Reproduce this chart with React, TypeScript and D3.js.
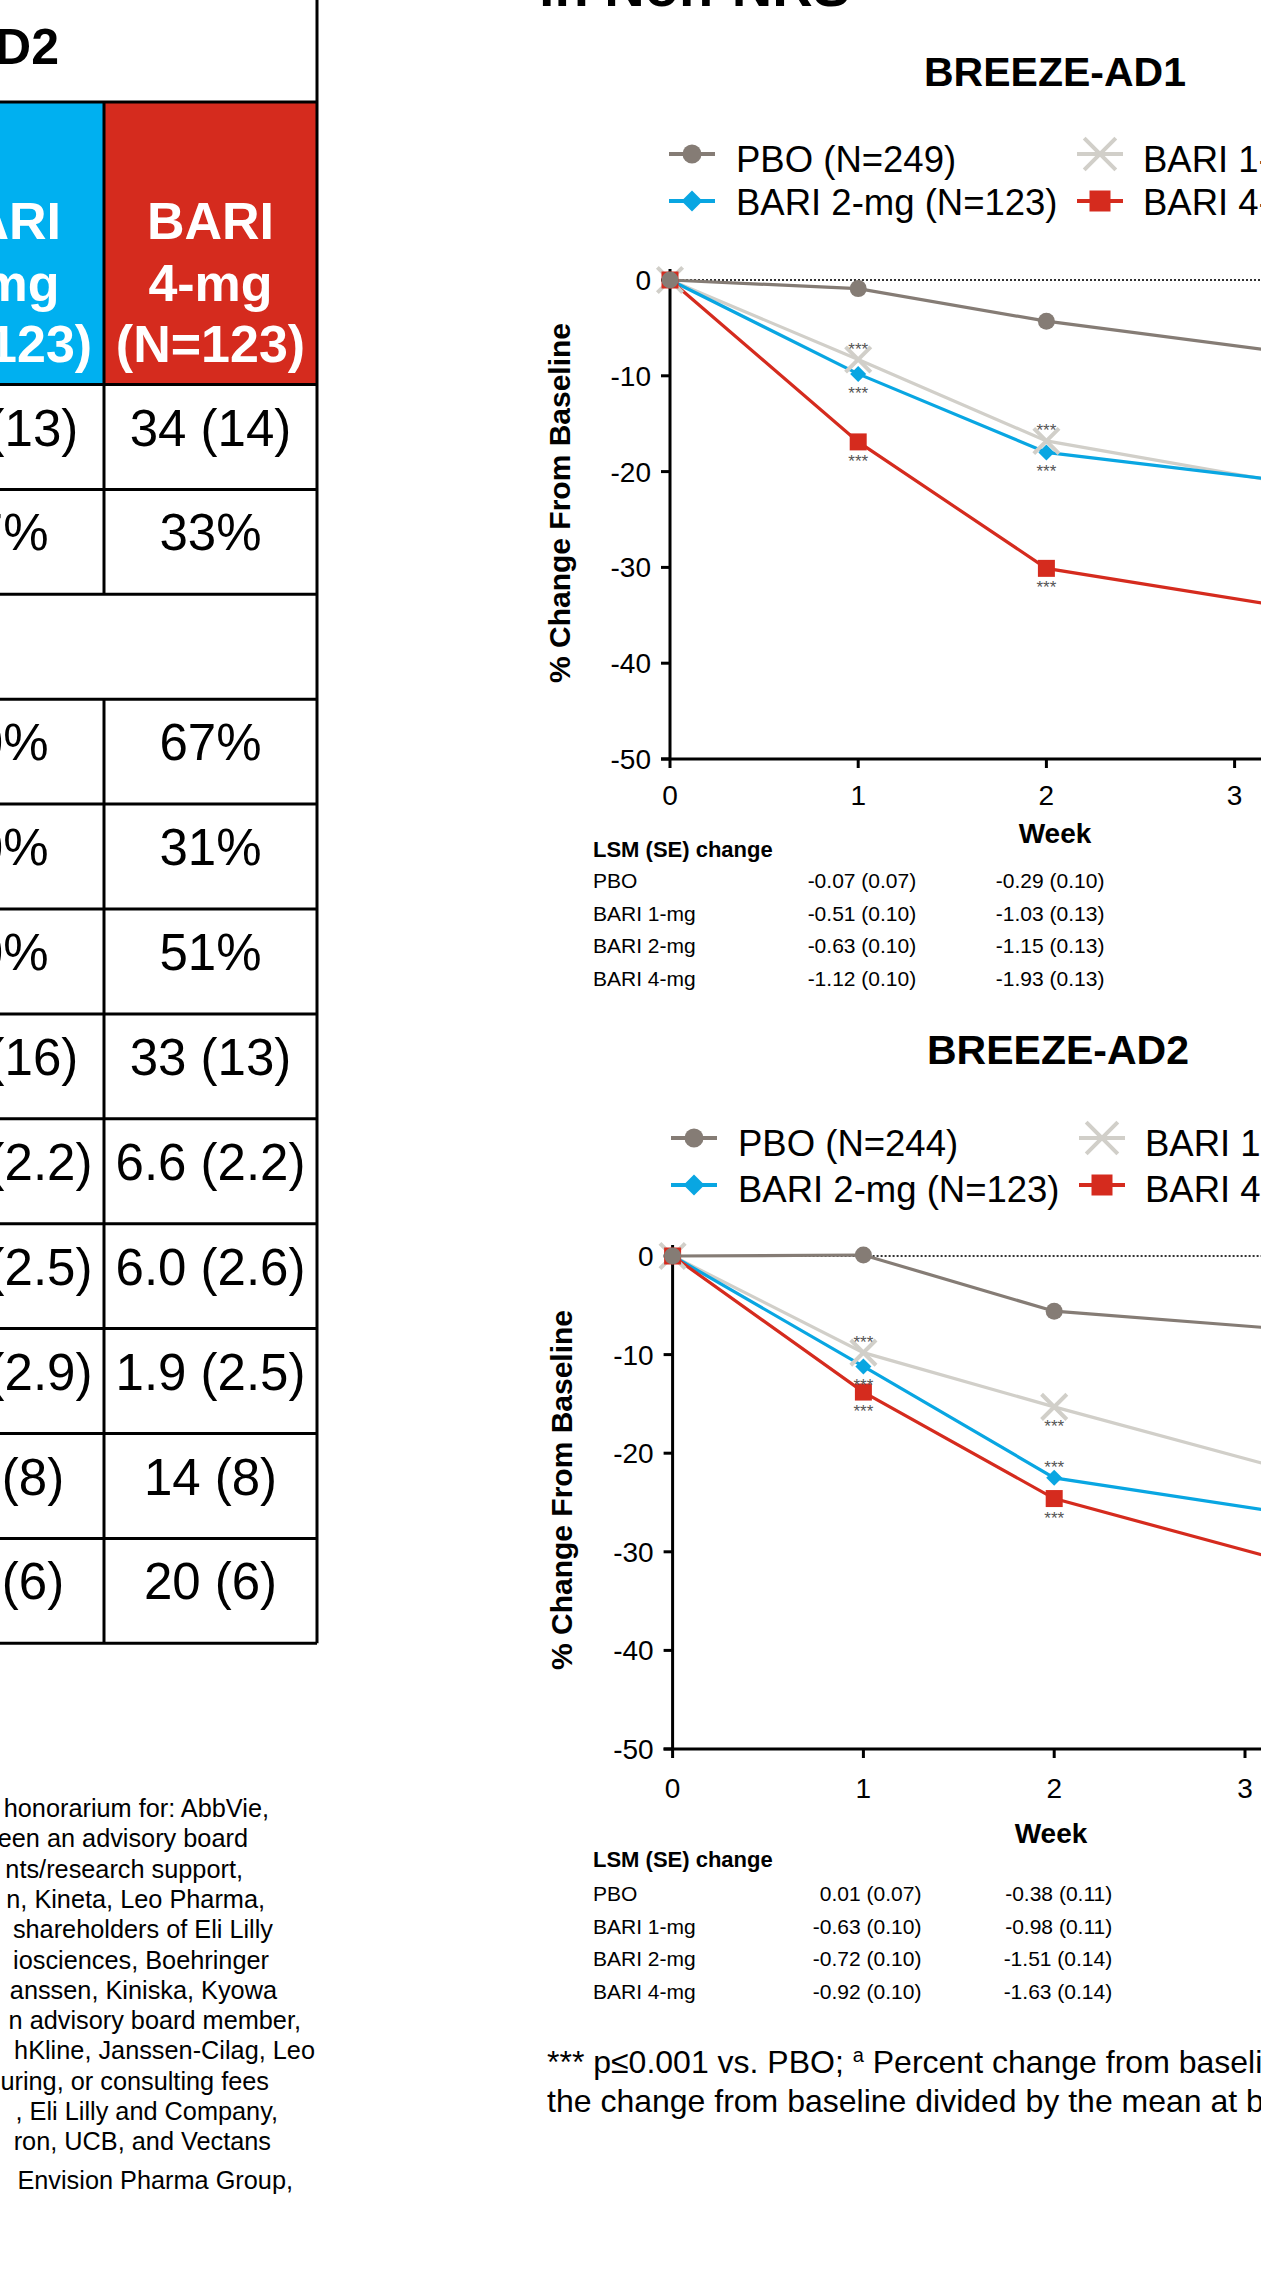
import React from "react";
import * as d3 from "d3";

const FONT = "'Liberation Sans', Arial, Helvetica, sans-serif";

// visit weeks (week 4 lies past the right edge of the crop)
const weeks = [0, 1, 2, 4];
const weekTicks = [0, 1, 2, 3, 4];
const pctTicks = [0, -10, -20, -30, -40, -50];

// drawing order: light grey first, placebo on top
const seriesKeys = ["bari1", "bari2", "bari4", "pbo"];
const legendKeys = ["pbo", "bari2", "bari1", "bari4"];
const colors = { pbo: "#857c75", bari1: "#d1cfc9", bari2: "#09a6e2", bari4: "#d52b1e" };
const markerKind = { pbo: "circle", bari1: "x", bari2: "diamond", bari4: "square" };

// BREEZE-AD1, % change from baseline
const ad1Pbo = [0, -0.9, -4.3, -9.4];
const ad1Bari1 = [0, -8.3, -16.8, -23.7];
const ad1Bari2 = [0, -9.8, -18.0, -22.7];
const ad1Bari4 = [0, -16.9, -30.1, -36.4];
const ad1Legend = ["PBO (N=249)", "BARI 2-mg (N=123)", "BARI 1-mg (N=127)", "BARI 4-mg (N=125)"];
// *** marks: 1 above the point, -1 below, 0 none
const ad1StarsBari1 = [0, 1, 1, 0];
const ad1StarsBari2 = [0, -1, -1, 0];
const ad1StarsBari4 = [0, -1, -1, 0];
const ad1LsmWeek1 = ["-0.07 (0.07)", "-0.51 (0.10)", "-0.63 (0.10)", "-1.12 (0.10)"];
const ad1LsmWeek2 = ["-0.29 (0.10)", "-1.03 (0.13)", "-1.15 (0.13)", "-1.93 (0.13)"];

// BREEZE-AD2
const ad2Pbo = [0, 0.1, -5.6, -8.6];
const ad2Bari1 = [0, -9.8, -15.3, -25.8];
const ad2Bari2 = [0, -11.2, -22.5, -28.4];
const ad2Bari4 = [0, -13.8, -24.6, -35.1];
const ad2Legend = ["PBO (N=244)", "BARI 2-mg (N=123)", "BARI 1-mg (N=125)", "BARI 4-mg (N=123)"];
const ad2StarsBari1 = [0, 1, -1, 0];
const ad2StarsBari2 = [0, -1, 1, 0];
const ad2StarsBari4 = [0, -1, -1, 0];
const ad2LsmWeek1 = ["0.01 (0.07)", "-0.63 (0.10)", "-0.72 (0.10)", "-0.92 (0.10)"];
const ad2LsmWeek2 = ["-0.38 (0.11)", "-0.98 (0.11)", "-1.51 (0.14)", "-1.63 (0.14)"];

const lsmRows = ["PBO", "BARI 1-mg", "BARI 2-mg", "BARI 4-mg"];

// left table (only the two right columns are in the crop)
const headBari2 = ["BARI", "2-mg", "(N=123)"];
const headBari4 = ["BARI", "4-mg", "(N=123)"];
const tableBari2 = ["33 (13)", "27%", "", "50%", "30%", "50%", "32 (16)", "6.5 (2.2)", "5.9 (2.5)", "2.4 (2.9)", "15 (8)", "21 (6)"];
const tableBari4 = ["34 (14)", "33%", "", "67%", "31%", "51%", "33 (13)", "6.6 (2.2)", "6.0 (2.6)", "1.9 (2.5)", "14 (8)", "20 (6)"];

// disclosure lines, as far as they show in the crop
const disclosure = [
  "honorarium for: AbbVie,",
  "been an advisory board",
  "nts/research support,",
  "n, Kineta, Leo Pharma,",
  "shareholders of Eli Lilly",
  "iosciences, Boehringer",
  "anssen, Kiniska, Kyowa",
  "n advisory board member,",
  "hKline, Janssen-Cilag, Leo",
  "uring, or consulting fees",
  ", Eli Lilly and Company,",
  "ron, UCB, and Vectans",
  "Envision Pharma Group,",
];
const disclosureEnds = [269, 248, 243, 265, 273, 269, 277, 301, 315, 269, 278, 271, 293];

const W = 1261;

function symbolPath(kind, px) {
  let type = d3.symbolCircle;
  let size = Math.PI * (px / 2) ** 2;
  if (kind === "square") { type = d3.symbolSquare; size = px * px; }
  if (kind === "diamond") { type = d3.symbolDiamond2; size = (px / 2 / 0.62625) ** 2; }
  if (kind === "x") { type = d3.symbolX; size = (px / 2 / 0.39182) ** 2 + 1.7; }
  return d3.symbol().type(type).size(size)();
}

function Marker({ k, cx, cy, px }) {
  const kind = markerKind[k];
  const d = symbolPath(kind, px);
  if (kind === "x") {
    return <path d={d} transform={`translate(${cx},${cy})`} fill="none" stroke={colors[k]} strokeWidth={4} />;
  }
  return <path d={d} transform={`translate(${cx},${cy})`} fill={colors[k]} />;
}

function Panel({ geo, title, legend, values, stars, lsm1, lsm2 }) {
  const x = d3.scaleLinear().domain([0, 1]).range([geo.axisX, geo.axisX + geo.weekPx]);
  const y = d3.scaleLinear().domain([0, -50]).range([geo.zeroY, geo.bottomY]);
  const line = d3.line<number>().x((_, i) => x(weeks[i])).y((d) => y(d));
  const plotSize = { pbo: 17, bari1: 16, bari2: 16, bari4: 17 };
  const legSize = { pbo: 19, bari1: 20, bari2: 21, bari4: 21 };

  return (
    <g>
      <text x={geo.titleX} y={geo.titleY} textAnchor="middle" fontSize={41} fontWeight="bold">{title}</text>

      {legendKeys.map((k, i) => {
        const col = Math.floor(i / 2);
        const row = i % 2;
        const mx = geo.legMarkX[col];
        const ly = geo.legLineY[row];
        return (
          <g key={k}>
            <line x1={mx - 23} x2={mx + 23} y1={ly} y2={ly} stroke={colors[k]} strokeWidth={4} />
            <Marker k={k} cx={mx} cy={ly} px={legSize[k]} />
            <text x={geo.legTextX[col]} y={geo.legTextY[row]} fontSize={36.5}>{legend[i]}</text>
          </g>
        );
      })}

      <line x1={geo.axisX} x2={W} y1={y(0)} y2={y(0)} stroke="#333" strokeWidth={2} strokeDasharray="2 2" />

      <line x1={geo.axisX} x2={geo.axisX} y1={y(0) - 11} y2={y(-50)} stroke="#000" strokeWidth={3} />
      <line x1={geo.axisX - 9} x2={W} y1={y(-50)} y2={y(-50)} stroke="#000" strokeWidth={3} />
      {pctTicks.map((t) => (
        <g key={t}>
          <line x1={geo.axisX - 9} x2={geo.axisX} y1={y(t)} y2={y(t)} stroke="#000" strokeWidth={3} />
          <text x={geo.axisX - 19} y={y(t)} dy="0.36em" textAnchor="end" fontSize={28}>{t}</text>
        </g>
      ))}
      {weekTicks.map((t) => (
        <g key={t}>
          <line x1={x(t)} x2={x(t)} y1={y(-50)} y2={y(-50) + 9} stroke="#000" strokeWidth={3} />
          <text x={x(t)} y={geo.tickLabelY} textAnchor="middle" fontSize={28}>{t}</text>
        </g>
      ))}
      <text transform={`translate(${geo.yLabelX},${geo.yLabelY}) rotate(-90)`} textAnchor="middle" fontSize={30} fontWeight="bold">
        % Change From Baseline
      </text>
      <text x={geo.weekX} y={geo.weekY} textAnchor="middle" fontSize={28} fontWeight="bold">Week</text>

      {seriesKeys.map((k) => (
        <path key={k} d={line(values[k])} fill="none" stroke={colors[k]} strokeWidth={3.2} />
      ))}
      {seriesKeys.map((k) =>
        values[k].map((v, i) => <Marker key={k + i} k={k} cx={x(weeks[i])} cy={y(v)} px={plotSize[k]} />)
      )}
      {Object.keys(stars).map((k) =>
        stars[k].map((s, i) =>
          s === 0 ? null : (
            <text key={k + "s" + i} x={x(weeks[i])} y={y(values[k][i]) + (s > 0 ? -5 : 25)} textAnchor="middle" fontSize={17} fill="#555">
              ***
            </text>
          )
        )
      )}

      <text x={593} y={geo.lsmHeadY} fontSize={22} fontWeight="bold">LSM (SE) change</text>
      {lsmRows.map((r, i) => (
        <g key={r}>
          <text x={593} y={geo.lsmRow0 + i * 32.5} fontSize={21}>{r}</text>
          <text x={x(1) + 58} y={geo.lsmRow0 + i * 32.5} textAnchor="end" fontSize={21}>{lsm1[i]}</text>
          <text x={x(2) + 58} y={geo.lsmRow0 + i * 32.5} textAnchor="end" fontSize={21}>{lsm2[i]}</text>
        </g>
      ))}
    </g>
  );
}

function LeftTable() {
  const top = 102;
  const headBottom = 384.5;
  const rowH = 104.9;
  const div = 104;
  const right = 317;
  const rows = d3.range(tableBari4.length).map((i) => headBottom + i * rowH);
  const bottom = headBottom + tableBari4.length * rowH;
  const c2 = div - 106.5;
  const c4 = (div + right) / 2;
  return (
    <g>
      <text x={59} y={64} textAnchor="end" fontSize={50} fontWeight="bold">BREEZE-AD2</text>
      <rect x={-120} y={top} width={div + 120} height={headBottom - top} fill="#00b0f0" />
      <rect x={div} y={top} width={right - div} height={headBottom - top} fill="#d52b1e" />
      {headBari2.map((t, i) => (
        <text key={"h2" + i} x={c2} y={239 + i * 61.5} textAnchor="middle" fontSize={52} fontWeight="bold" fill="#fff">{t}</text>
      ))}
      {headBari4.map((t, i) => (
        <text key={"h4" + i} x={c4} y={239 + i * 61.5} textAnchor="middle" fontSize={52} fontWeight="bold" fill="#fff">{t}</text>
      ))}
      {tableBari4.map((t, i) => (
        <g key={"r" + i}>
          <text x={c2} y={rows[i] + 61} textAnchor="middle" fontSize={51}>{tableBari2[i]}</text>
          <text x={c4} y={rows[i] + 61} textAnchor="middle" fontSize={51}>{t}</text>
        </g>
      ))}
      <g stroke="#000" strokeWidth={3}>
        <line x1={right} x2={right} y1={0} y2={bottom} />
        <line x1={0} x2={right} y1={top} y2={top} />
        {rows.concat([bottom]).map((r, i) => (
          <line key={"l" + i} x1={0} x2={right} y1={r} y2={r} />
        ))}
        {rows.map((r, i) =>
          tableBari4[i] === "" ? null : <line key={"v" + i} x1={div} x2={div} y1={r} y2={r + rowH} />
        )}
        <line x1={div} x2={div} y1={top} y2={headBottom} />
      </g>
    </g>
  );
}

export default function App() {
  const geo1 = {
    axisX: 670, weekPx: 188.2, zeroY: 280, bottomY: 759,
    titleX: 1055, titleY: 86,
    legMarkX: [692, 1100], legTextX: [736, 1143], legLineY: [154, 201], legTextY: [172, 215],
    tickLabelY: 805, weekX: 1055, weekY: 843, yLabelX: 570, yLabelY: 503,
    lsmHeadY: 857, lsmRow0: 888,
  };
  const geo2 = {
    axisX: 672.6, weekPx: 190.8, zeroY: 1256, bottomY: 1749,
    titleX: 1058, titleY: 1064,
    legMarkX: [694, 1102], legTextX: [738, 1145], legLineY: [1138, 1185], legTextY: [1156, 1202],
    tickLabelY: 1798, weekX: 1051, weekY: 1843, yLabelX: 572, yLabelY: 1490,
    lsmHeadY: 1867, lsmRow0: 1901,
  };

  return (
    <svg width={W} height={2288} style={{ position: "absolute", left: 0, top: 0 }} fontFamily={FONT}>
      <rect width={W} height={2288} fill="#fff" />
      <LeftTable />
      {disclosure.map((t, i) => (
        <text key={i} x={disclosureEnds[i]} y={i < 12 ? 1817 + i * 30.3 : 2189} textAnchor="end" fontSize={25.3}>{t}</text>
      ))}
      <text x={539} y={6} fontSize={56} fontWeight="bold">in Non-NRS</text>

      <Panel
        geo={geo1}
        title="BREEZE-AD1"
        legend={ad1Legend}
        values={{ pbo: ad1Pbo, bari1: ad1Bari1, bari2: ad1Bari2, bari4: ad1Bari4 }}
        stars={{ bari1: ad1StarsBari1, bari2: ad1StarsBari2, bari4: ad1StarsBari4 }}
        lsm1={ad1LsmWeek1}
        lsm2={ad1LsmWeek2}
      />
      <Panel
        geo={geo2}
        title="BREEZE-AD2"
        legend={ad2Legend}
        values={{ pbo: ad2Pbo, bari1: ad2Bari1, bari2: ad2Bari2, bari4: ad2Bari4 }}
        stars={{ bari1: ad2StarsBari1, bari2: ad2StarsBari2, bari4: ad2StarsBari4 }}
        lsm1={ad2LsmWeek1}
        lsm2={ad2LsmWeek2}
      />

      <text x={547} y={2073} fontSize={32}>
        *** p≤0.001 vs. PBO; <tspan fontSize={20} dy={-11}>a</tspan>
        <tspan dy={11}> Percent change from baseline was calculated as</tspan>
      </text>
      <text x={547} y={2112} fontSize={32}>the change from baseline divided by the mean at baseline.</text>
    </svg>
  );
}
